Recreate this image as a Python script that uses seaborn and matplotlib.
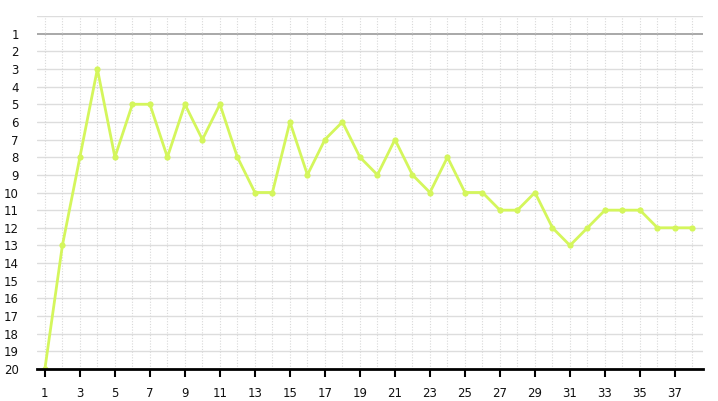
import numpy as np
import matplotlib
matplotlib.use('Agg')
import matplotlib.pyplot as plt
import seaborn as sns
import pandas as pd

# Veri: sıralama (1 = en üst)
rounds = list(range(1, 39))
positions = [20, 13, 8, 3, 8, 5, 5, 8, 5, 7, 5, 8, 10, 10, 6, 9, 7, 6, 8, 9,
             7, 9, 10, 8, 10, 10, 11, 11, 10, 12, 13, 12, 11, 11, 11, 12, 12, 12]
x_ticks = list(range(1, 39, 2))
y_ticks = list(range(1, 21))

df = pd.DataFrame({"round": rounds, "position": positions})

sns.set_style("white")
plt.rcParams['font.family'] = ['DejaVu Sans']

fig = plt.figure(figsize=(7.18, 4.01), dpi=100)
ax = fig.add_axes([37 / 718, 1 - 369 / 401, (703 - 37) / 718, (369 - 16) / 401])

# Izgara
for v in range(0, 21):
    ax.axhline(v, color='#999999' if v == 1 else '#dddddd', lw=1.2 if v == 1 else 1.0, zorder=1)
for v in range(1, 39):
    ax.axvline(v, color='#d8d8d8', lw=0.8, ls=(0, (1, 1.5)), zorder=1)

sns.lineplot(data=df, x="round", y="position", ax=ax, color='#d4f65c', lw=2,
             marker='o', markersize=4.5, markeredgewidth=0, zorder=3)

ax.set_xlim(0.55, 38.6)
ax.set_ylim(20, 0)
ax.set_xticks(x_ticks)
ax.set_yticks(y_ticks)
ax.set_xlabel('')
ax.set_ylabel('')

for s in ['top', 'right', 'left']:
    ax.spines[s].set_visible(False)
ax.spines['bottom'].set_color('black')
ax.spines['bottom'].set_linewidth(2)
ax.spines['bottom'].set_zorder(4)

ax.tick_params(axis='x', bottom=True, length=6, width=1.5, color='black', labelsize=8.5,
               pad=7, direction='out')
ax.tick_params(axis='y', left=False, length=0, labelsize=8.5, pad=13)
for lbl in ax.get_xticklabels() + ax.get_yticklabels():
    lbl.set_color('#111111')

fig.savefig('out.png', dpi=100)
